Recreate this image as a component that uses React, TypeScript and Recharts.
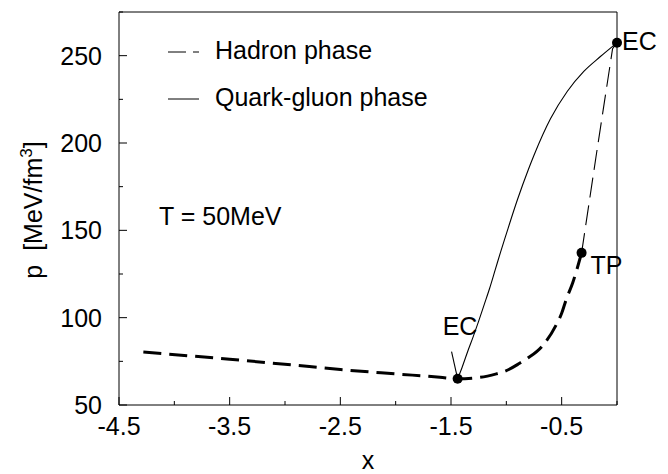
import React from 'react';
import { ComposedChart, Line, Scatter, XAxis, YAxis, Legend, Customized } from 'recharts';

// ---- data ----
const xTicks = [-4.5, -4, -3.5, -3, -2.5, -2, -1.5, -1, -0.5, 0];
const xTickLabels = ['-4.5', '-3.5', '-2.5', '-1.5', '-0.5'];
const yTicks = [50, 75, 100, 125, 150, 175, 200, 225, 250, 275];
const yTickLabels = ['50', '100', '150', '200', '250'];

// hadron phase (thick dashed), from far left through EC to TP
const hadronLowX = [-4.28, -3.5, -2.78, -2.5, -2.0, -1.6, -1.44, -1.24, -1.09, -1.02, -0.88, -0.81, -0.68, -0.55, -0.5, -0.46, -0.4, -0.32];
const hadronLowY = [80.3, 76.2, 72, 70.3, 67.8, 65.9, 65, 65.8, 67.8, 69.1, 73.9, 76.7, 83.4, 95.8, 102.5, 110.2, 120, 137.1];

// hadron phase (thin dashed), from TP up to EC
const hadronHighX = [-0.32, -0.19, -0.04, 0];
const hadronHighY = [137.1, 192, 254, 257.4];

// quark-gluon phase (solid), from EC to EC
const quarkX = [-1.44, -1.4, -1.35, -1.3, -1.25, -1.2, -1.15, -1.1, -1.05, -1.0, -0.9, -0.8, -0.75, -0.6, -0.45, -0.3, -0.15, 0];
const quarkY = [65, 71.5, 80.5, 89, 98, 107.5, 117, 127.5, 138, 148, 167.5, 185, 193, 214, 229.5, 241, 249.5, 257.4];

// short pointer stub at lower EC
const stubX = [-1.495, -1.44];
const stubY = [80.5, 65];

// marked points
const pointNames = ['ecLow', 'tp', 'ecHigh'];
const pointLabels = ['EC', 'TP', 'EC'];
const pointX = [-1.44, -0.32, 0];
const pointY = [65, 137.1, 257.4];

const zip = (xs: number[], ys: number[]) => xs.map((x, i) => ({ x, y: ys[i] }));
const hadronLow = zip(hadronLowX, hadronLowY);
const hadronHigh = zip(hadronHighX, hadronHighY);
const quark = zip(quarkX, quarkY);
const stub = zip(stubX, stubY);
const points = pointNames.map((n, i) => ({ name: n, label: pointLabels[i], x: pointX[i], y: pointY[i] }));

// ---- styles ----
const FONT = '"Liberation Sans", Arial, sans-serif';
const FS = 25;

const labelOffsets: Record<string, { dx: number; dy: number }> = {
  ecLow: { dx: -15, dy: -44 },
  tp: { dx: 9, dy: 21 },
  ecHigh: { dx: 5, dy: 7 },
};

const XTick = (props: any) => {
  const { x, y, payload, side } = props;
  const s = Number(payload.value).toFixed(1);
  const major = xTickLabels.includes(s);
  const len = major ? 8 : 4;
  const dir = side === 'top' ? 1 : -1;
  return (
    <g>
      <line x1={x} y1={y} x2={x} y2={y + dir * len} stroke="#000" strokeWidth={1} />
      {side === 'bottom' && major ? (
        <text x={x} y={y + 30} textAnchor="middle" fontFamily={FONT} fontSize={FS} fill="#000">
          {s}
        </text>
      ) : null}
    </g>
  );
};

const YTick = (props: any) => {
  const { x, y, payload, side } = props;
  const s = String(payload.value);
  const major = yTickLabels.includes(s);
  const len = major ? 8 : 4;
  const dir = side === 'right' ? -1 : 1;
  return (
    <g>
      <line x1={x} y1={y} x2={x + dir * len} y2={y} stroke="#000" strokeWidth={1} />
      {side === 'left' && major ? (
        <text x={x - 17} y={y + 9} textAnchor="end" fontFamily={FONT} fontSize={FS} fill="#000">
          {s}
        </text>
      ) : null}
    </g>
  );
};

const PointShape = (props: any) => {
  const { cx, cy, payload } = props;
  const off = labelOffsets[payload.name];
  return (
    <g>
      <circle cx={cx} cy={cy} r={5} fill="#000" />
      <text x={cx + off.dx} y={cy + off.dy} fontFamily={FONT} fontSize={FS} fill="#000">
        {payload.label}
      </text>
    </g>
  );
};

const LegendContent = () => (
  <svg width={260} height={90} style={{ overflow: 'visible', display: 'block' }}>
    <line x1={8} y1={22} x2={39} y2={22} stroke="#000" strokeWidth={1} strokeDasharray="18 7" />
    <text x={55} y={29} fontFamily={FONT} fontSize={FS} fill="#000">Hadron phase</text>
    <line x1={8} y1={69} x2={39} y2={69} stroke="#000" strokeWidth={1} />
    <text x={55} y={76} fontFamily={FONT} fontSize={FS} fill="#000">Quark-gluon phase</text>
  </svg>
);

const Annotations = () => (
  <g>
    <text x={159} y={225} fontFamily={FONT} fontSize={FS} fill="#000">T = 50MeV</text>
    <text x={368} y={469} textAnchor="middle" fontFamily={FONT} fontSize={FS} fill="#000">x</text>
    <text
      x={42}
      y={210}
      transform="rotate(-90, 42, 210)"
      textAnchor="middle"
      fontFamily={FONT}
      fontSize={FS}
      fill="#000"
    >
      {'p\u00a0\u00a0[MeV/fm'}
      <tspan dy={-10} fontSize={17}>3</tspan>
      <tspan dy={10}>]</tspan>
    </text>
  </g>
);

const axisLine = { stroke: '#000', strokeWidth: 1 };

export default function App() {
  return (
    <div style={{ position: 'absolute', left: 0, top: 0, width: 668, height: 474, background: '#fff' }}>
      <ComposedChart width={668} height={474} margin={{ top: 11, right: 50, bottom: 68, left: 118 }}>
        <XAxis
          dataKey="x"
          type="number"
          domain={[-4.5, 0]}
          ticks={xTicks}
          interval={0}
          height={1}
          tickSize={0}
          tickMargin={0}
          tickLine={false}
          axisLine={axisLine}
          tick={(p: any) => <XTick {...p} side="bottom" />}
        />
        <XAxis
          xAxisId="top"
          orientation="top"
          type="number"
          domain={[-4.5, 0]}
          ticks={xTicks}
          interval={0}
          height={1}
          tickSize={0}
          tickMargin={0}
          tickLine={false}
          axisLine={axisLine}
          tick={(p: any) => <XTick {...p} side="top" />}
        />
        <YAxis
          dataKey="y"
          type="number"
          domain={[50, 275]}
          ticks={yTicks}
          interval={0}
          width={1}
          tickSize={0}
          tickMargin={0}
          tickLine={false}
          axisLine={axisLine}
          tick={(p: any) => <YTick {...p} side="left" />}
        />
        <YAxis
          yAxisId="right"
          orientation="right"
          type="number"
          domain={[50, 275]}
          ticks={yTicks}
          interval={0}
          width={1}
          tickSize={0}
          tickMargin={0}
          tickLine={false}
          axisLine={axisLine}
          tick={(p: any) => <YTick {...p} side="right" />}
        />
        <Line
          data={hadronLow}
          dataKey="y"
          type="monotone"
          stroke="#000"
          strokeWidth={3}
          strokeDasharray="18 8"
          dot={false}
          activeDot={false}
          isAnimationActive={false}
        />
        <Line
          data={hadronHigh}
          dataKey="y"
          type="linear"
          stroke="#000"
          strokeWidth={1.1}
          strokeDasharray="20 8"
          dot={false}
          activeDot={false}
          isAnimationActive={false}
        />
        <Line
          data={quark}
          dataKey="y"
          type="monotone"
          stroke="#000"
          strokeWidth={1.1}
          dot={false}
          activeDot={false}
          isAnimationActive={false}
        />
        <Line
          data={stub}
          dataKey="y"
          type="linear"
          stroke="#000"
          strokeWidth={1.1}
          dot={false}
          activeDot={false}
          isAnimationActive={false}
        />
        <Scatter data={points} dataKey="y" shape={(p: any) => <PointShape {...p} />} isAnimationActive={false} />
        <Legend
          layout="vertical"
          align="center"
          verticalAlign="middle"
          content={() => <LegendContent />}
          wrapperStyle={{ position: 'absolute', left: 160, top: 30, width: 260, height: 90 }}
        />
        <Customized component={Annotations} />
      </ComposedChart>
    </div>
  );
}
